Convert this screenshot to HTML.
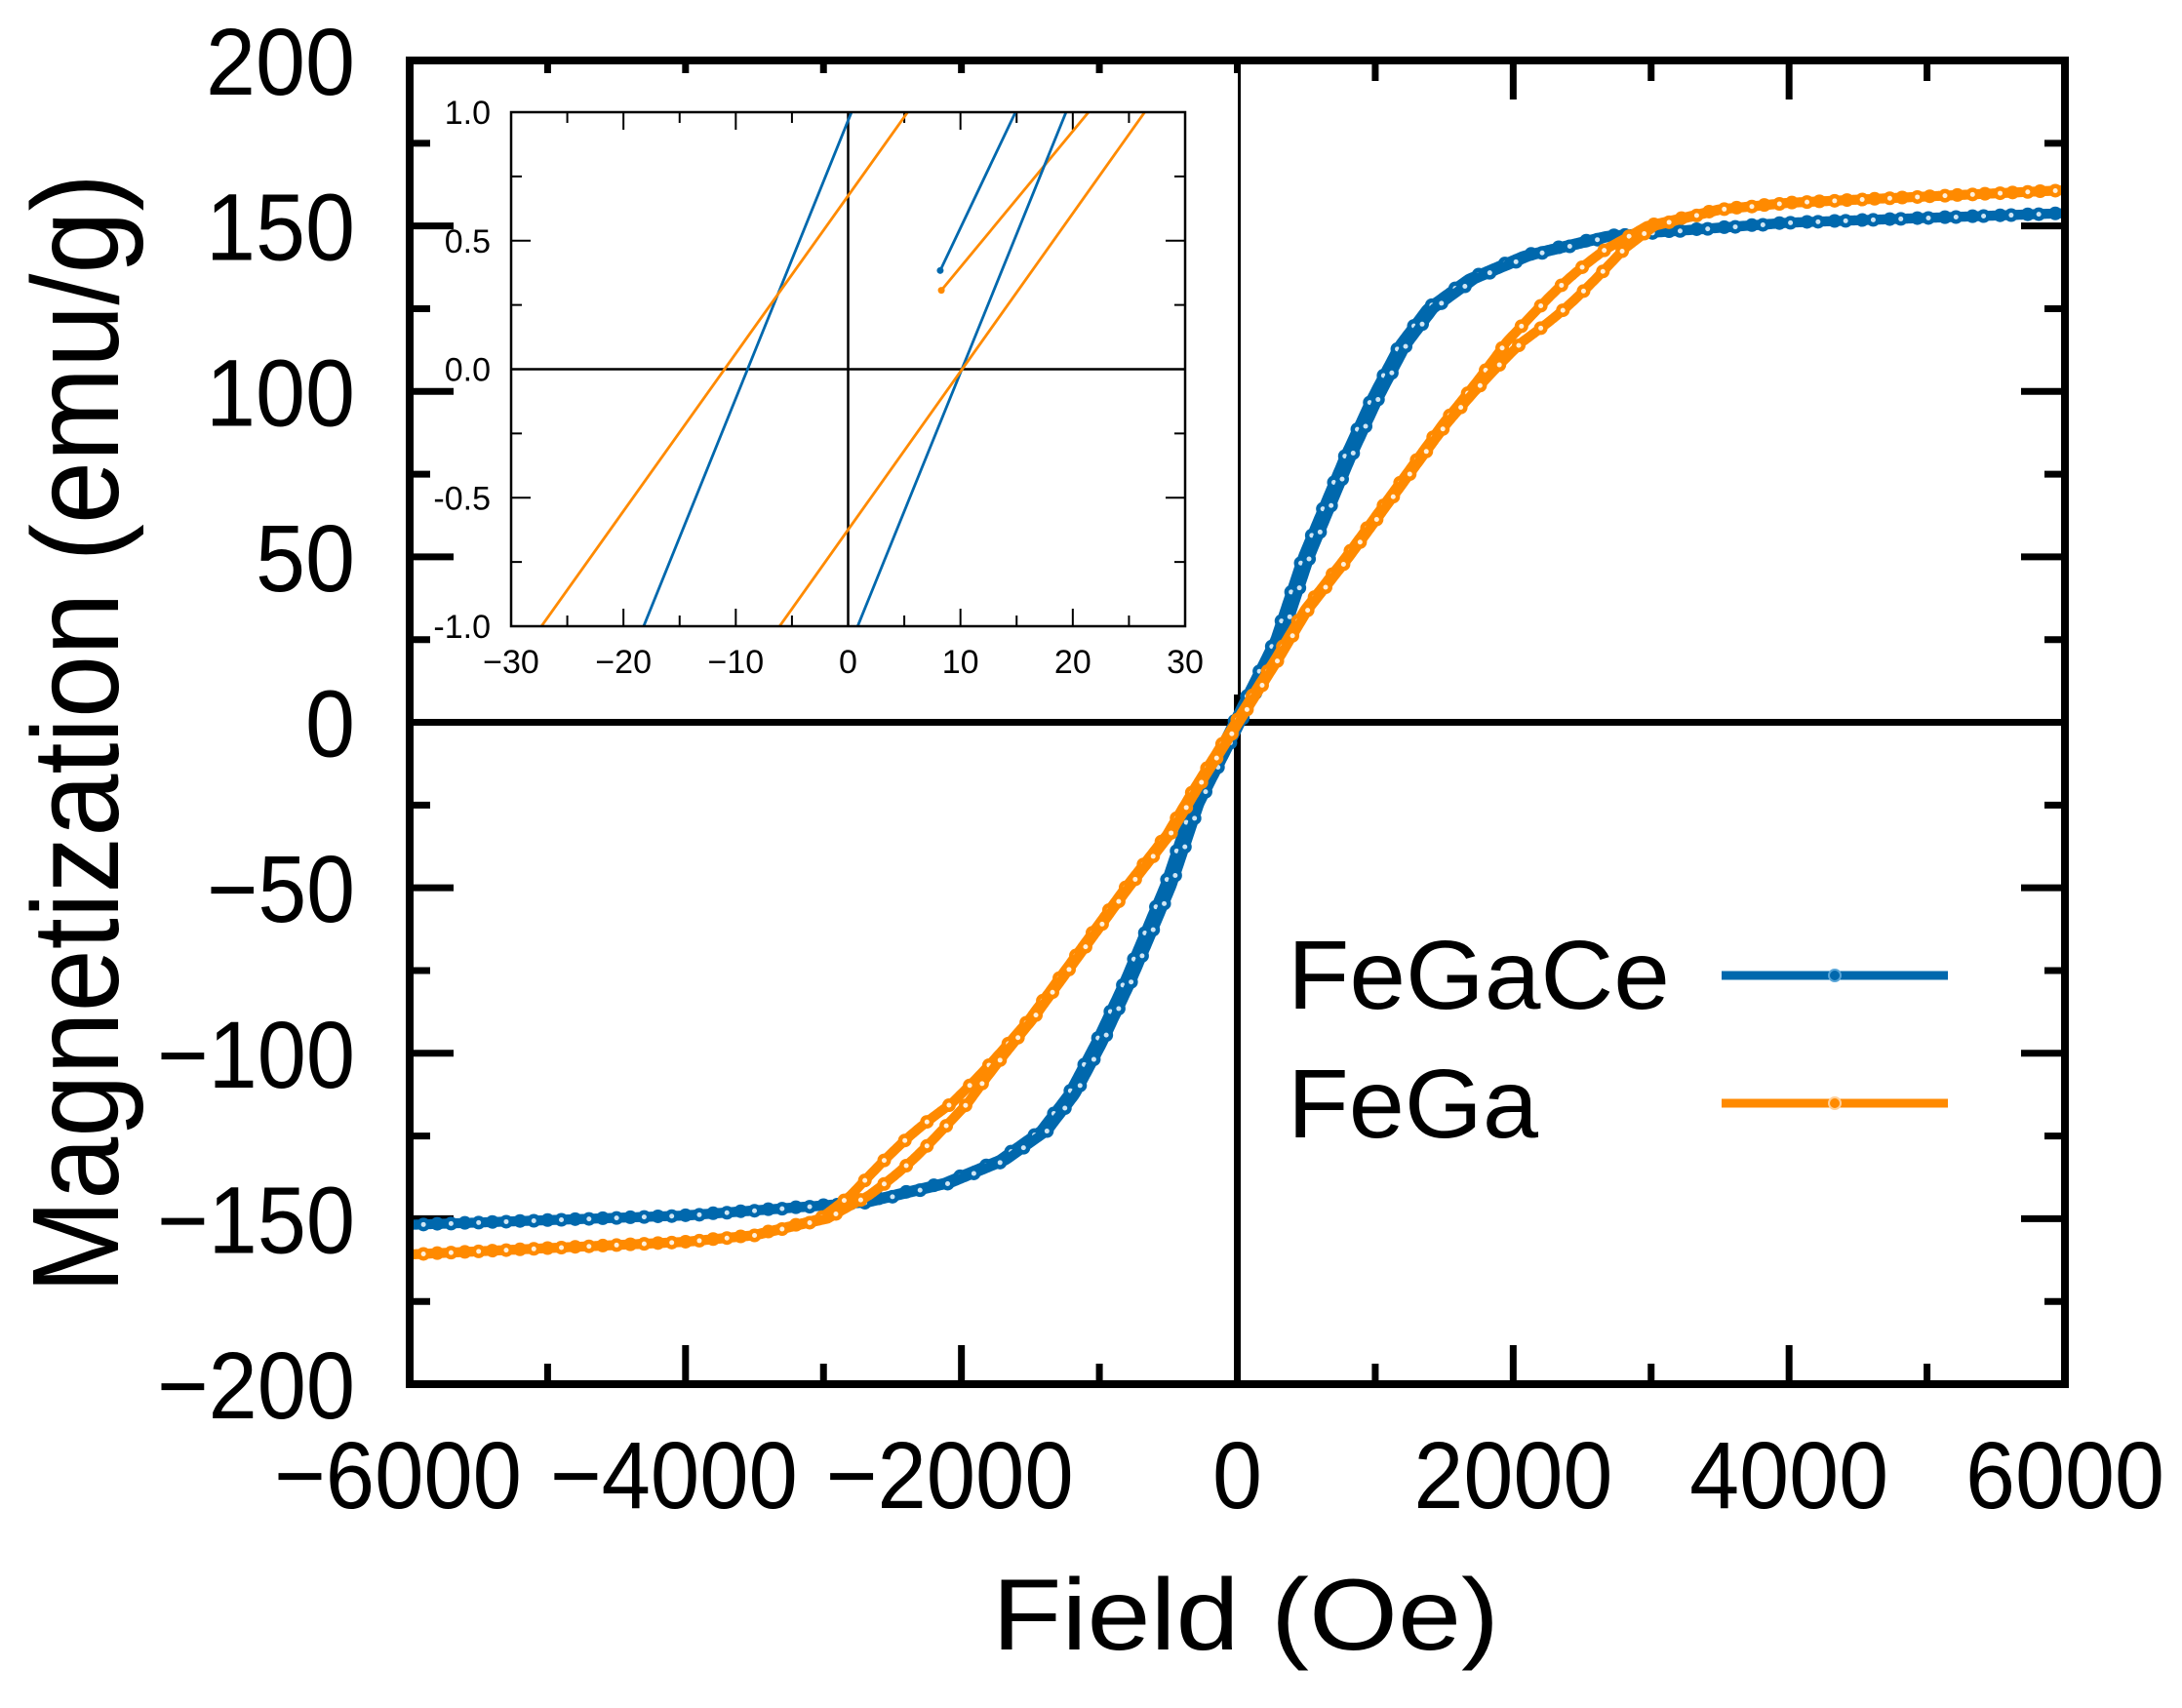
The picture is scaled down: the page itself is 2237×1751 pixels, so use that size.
<!DOCTYPE html>
<html><head><meta charset="utf-8"><style>
html,body{margin:0;padding:0;background:#fff}
svg{display:block}
text{font-family:"Liberation Sans",Arial,sans-serif;fill:#000}
</style></head><body>
<svg id="s" width="2237" height="1751" viewBox="0 0 2237 1751" xmlns="http://www.w3.org/2000/svg">
<rect width="2237" height="1751" fill="#fff"/>
<g id="ticks" stroke="#000"></g>
<g id="curves"></g>
<g id="inset"></g>
<rect x="420" y="62" width="1697" height="1357" fill="none" stroke="#000" stroke-width="8"/>
<g font-size="97" text-anchor="end" id="ylab"></g>
<g font-size="97" text-anchor="middle" id="xlab"></g>
<text x="1017" y="1691" font-size="104" textLength="520" lengthAdjust="spacingAndGlyphs">Field (Oe)</text>
<text transform="translate(121,752) rotate(-90)" text-anchor="middle" font-size="126" textLength="1148" lengthAdjust="spacingAndGlyphs">Magnetization (emu/g)</text>
<text x="1320" y="1034" font-size="100" textLength="392" lengthAdjust="spacingAndGlyphs">FeGaCe</text>
<text x="1320" y="1166" font-size="100" textLength="257" lengthAdjust="spacingAndGlyphs">FeGa</text>
<line x1="1765" y1="1000" x2="1997" y2="1000" stroke="#0068ad" stroke-width="9"/>
<circle cx="1881" cy="1000" r="6" fill="#0068ad" stroke="#5aa6d8" stroke-width="2"/>
<line x1="1765" y1="1131" x2="1997" y2="1131" stroke="#ff8a00" stroke-width="9"/>
<circle cx="1881" cy="1131" r="6" fill="#ff8a00" stroke="#ffd09a" stroke-width="2"/>
</svg>
<script>
var NS="http://www.w3.org/2000/svg";
function el(p,t,a,txt){var e=document.createElementNS(NS,t);for(var k in a)e.setAttribute(k,a[k]);if(txt!==undefined)e.textContent=txt;document.getElementById(p).appendChild(e);return e;}
var L=420,R=2117,T=62,B=1419;
function X(h){return 1268.5+h*0.14142;}
function Y(m){return 740.5-m*3.3925;}
for(var h=-5000;h<=5000;h+=1000){var maj=(h%2000===0);var len=maj?40:21;
 el("ticks","line",{x1:X(h),y1:B,x2:X(h),y2:B-len,"stroke-width":7});
 el("ticks","line",{x1:X(h),y1:T,x2:X(h),y2:T+len,"stroke-width":7});}
for(var m=-175;m<=175;m+=25){var maj=(m%50===0);var len=maj?45:21;
 el("ticks","line",{x1:L,y1:Y(m),x2:L+len,y2:Y(m),"stroke-width":7});
 el("ticks","line",{x1:R,y1:Y(m),x2:R-len,y2:Y(m),"stroke-width":7});}
el("ticks","line",{x1:L,y1:Y(0),x2:R,y2:Y(0),"stroke-width":7});
el("ticks","line",{x1:X(0),y1:T,x2:X(0),y2:B,"stroke-width":7});
var yl={"200":153,"150":153,"100":153,"50":102,"0":51,"-50":152,"-100":203,"-150":203,"-200":203};
for(var m=-200;m<=200;m+=50){var s=(m<0?"\u2212"+(-m):""+m);
 el("ylab","text",{x:364,y:Y(m)+35,textLength:yl[""+m],lengthAdjust:"spacingAndGlyphs"},s);}
for(var h=-6000;h<=6000;h+=2000){var s=(h<0?"\u2212"+(-h):""+h);var w=h<0?254:(h==0?51:204);
 el("xlab","text",{x:X(h)+(h<0?-12:0),y:1546,textLength:w,lengthAdjust:"spacingAndGlyphs"},s);}
function interp(pts,x){var s=x<0?-1:1;var a=Math.abs(x);
 for(var i=0;i<pts.length-1;i++){if(a<=pts[i+1][0]){var t=(a-pts[i][0])/(pts[i+1][0]-pts[i][0]);return s*(pts[i][1]+t*(pts[i+1][1]-pts[i][1]));}}
 return s*pts[pts.length-1][1];}
var gB=[[0,0],[300,25],[500,50],[800,80],[1000,98],[1200,114],[1400,125],[1700,134],[2100,141],[2700,147],[4000,151],[6100,154]];
var gO=[[0,0],[300,20],[500,34],[800,50],[1150,70],[1500,90],[2000,115],[2400,130],[2750,143],[3000,150],[3500,155],[4000,157],[6100,161]];
function blue(h,br){var v=interp(gB,h+br*25);if(h<0)v*=152/154;return v;}
function orange(h,br){var a=Math.abs(h);var d=95*Math.exp(-Math.pow((a-2400)/450,2))+12;return interp(gO,h+br*d);}
function drawSeries(f,col,light){
 [1,-1].forEach(function(br){
  var pts=[];for(var h=-6000;h<=6000;h+=10){pts.push([X(h),Y(f(h,br))]);}
  var d="M"+pts.map(function(p){return p[0].toFixed(1)+","+p[1].toFixed(1);}).join("L");
  el("curves","path",{d:d,fill:"none",stroke:col,"stroke-width":10,"stroke-linejoin":"round"});
  var acc=br>0?0:14,last=pts[0];
  for(var i=1;i<pts.length;i++){var dx=pts[i][0]-last[0],dy=pts[i][1]-last[1];acc+=Math.sqrt(dx*dx+dy*dy);last=pts[i];
   if(acc>=28){acc=0;el("curves","circle",{cx:pts[i][0],cy:pts[i][1],r:7,fill:col});el("curves","circle",{cx:pts[i][0],cy:pts[i][1],r:2.5,fill:light});}}
 });}
drawSeries(blue,"#0068ad","#cfe6f5");
drawSeries(orange,"#ff8a00","#fff0dc");
var iL=524,iR=1215,iT=115,iB=642;
el("inset","rect",{x:iL-6,y:iT-40,width:iR-iL+60,height:iB-iT+110,fill:"#fff"});
function IX(v){return iL+(v+30)/60*(iR-iL);}
function IY(v){return iT+(1-v)/2*(iB-iT);}
for(var v=-25;v<=25;v+=5){if(v===0)continue;var len=(v%10===0)?18:11;
 el("inset","line",{x1:IX(v),y1:iB,x2:IX(v),y2:iB-len,stroke:"#000","stroke-width":2});
 el("inset","line",{x1:IX(v),y1:iT,x2:IX(v),y2:iT+len,stroke:"#000","stroke-width":2});}
for(var v=-0.75;v<=0.76;v+=0.25){var maj=Math.abs(v*2-Math.round(v*2))<0.01;var len=maj?20:11;
 el("inset","line",{x1:iL,y1:IY(v),x2:iL+len,y2:IY(v),stroke:"#000","stroke-width":2});
 el("inset","line",{x1:iR,y1:IY(v),x2:iR-len,y2:IY(v),stroke:"#000","stroke-width":2});}
el("inset","line",{x1:iL,y1:IY(0),x2:iR,y2:IY(0),stroke:"#000","stroke-width":2.5});
el("inset","line",{x1:IX(0),y1:iT,x2:IX(0),y2:iB,stroke:"#000","stroke-width":2.5});
var segs=[["#0068ad",-18.2,-1,0.3,1],["#ff8a00",-27.3,-1,5.3,1],["#0068ad",8.2,0.384,14.9,1],["#ff8a00",8.3,0.307,21.4,1],["#0068ad",0.85,-1,19.4,1],["#ff8a00",-6.1,-1,26.4,1]];
segs.forEach(function(s){el("inset","line",{x1:IX(s[1]),y1:IY(s[2]),x2:IX(s[3]),y2:IY(s[4]),stroke:s[0],"stroke-width":2.8});});
el("inset","circle",{cx:IX(8.2),cy:IY(0.384),r:3.5,fill:"#0068ad"});
el("inset","circle",{cx:IX(8.3),cy:IY(0.307),r:3.5,fill:"#ff8a00"});
el("inset","rect",{x:iL,y:iT,width:iR-iL,height:iB-iT,fill:"none",stroke:"#000","stroke-width":2.5});
var yls=["1.0","0.5","0.0","-0.5","-1.0"];
for(var i=0;i<5;i++){el("inset","text",{x:503,y:IY(1-i*0.5)+12,"font-size":34,"text-anchor":"end"},yls[i]);}
for(var v=-30;v<=30;v+=10){el("inset","text",{x:IX(v),y:690,"font-size":34,"text-anchor":"middle"},v<0?"\u2212"+(-v):""+v);}
</script>
</body></html>
